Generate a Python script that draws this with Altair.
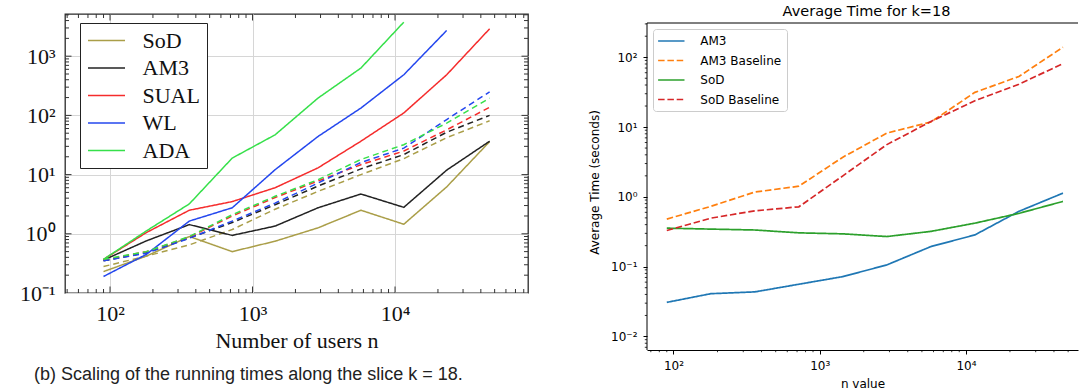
import altair as alt
import pandas as pd

# ---------------- data ----------------
n_users = [90, 180, 360, 720, 1440, 2880, 5760, 11520, 23040, 46080]

# left panel (measured solid, baseline dashed)
left_algos = ["SoD", "AM3", "SUAL", "WL", "ADA"]
left_colors = ["#aa9e48", "#222222", "#f52c2c", "#2447ee", "#36e04a"]
sod_time = [0.23, 0.42, 0.90, 0.50, 0.75, 1.26, 2.5, 1.45, 6.2, 36]
am3_time = [0.36, 0.76, 1.43, 0.94, 1.35, 2.75, 4.7, 2.8, 11.9, 36.6]
sual_time = [0.37, 1.05, 2.5, 3.5, 6.0, 13, 36.6, 110, 486, 2900]
wl_time = [0.19, 0.45, 1.64, 2.75, 12.1, 44, 133, 486, 2720, None]
ada_time = [0.37, 1.12, 3.2, 19, 47, 196, 630, 3760, None, None]
sod_base = [0.28, 0.42, 0.65, 1.18, 2.6, 5.2, 10, 18.6, 42, 81]
am3_base = [0.35, 0.48, 0.85, 1.55, 3.1, 6.4, 12.5, 21.8, 52, 100]
sual_base = [0.36, 0.50, 0.88, 2.0, 4.1, 7.8, 14.7, 25, 57, 137]
wl_base = [0.35, 0.47, 0.84, 1.64, 3.3, 7.2, 16, 28, 85, 250]
ada_base = [0.37, 0.50, 0.90, 2.1, 4.3, 8.2, 18, 32, 74, 196]

# right panel
right_series = ["AM3", "AM3 Baseline", "SoD", "SoD Baseline"]
right_colors = ["#1f77b4", "#ff7f0e", "#2ca02c", "#d62728"]
am3_r = [0.0308, 0.041, 0.0435, 0.056, 0.072, 0.106, 0.194, 0.285, 0.62, 1.13]
am3b_r = [0.48, 0.73, 1.17, 1.42, 3.7, 8.2, 11.8, 31.4, 53, 139]
sod_r = [0.356, 0.345, 0.335, 0.305, 0.295, 0.27, 0.32, 0.42, 0.58, 0.86]
sodb_r = [0.33, 0.495, 0.63, 0.72, 2.0, 5.6, 12, 23.8, 41, 81]

# tick values
left_x_major = [100, 1000, 10000]
left_x_minor = [50, 60, 70, 80, 90, 200, 300, 400, 500, 600, 700, 800, 900,
                2000, 3000, 4000, 5000, 6000, 7000, 8000, 9000,
                20000, 30000, 40000, 50000, 60000, 70000, 80000]
left_y_major = [1, 10, 100, 1000]
left_y_minor = [0.2, 0.3, 0.4, 0.5, 0.6, 0.7, 0.8, 0.9, 2, 3, 4, 5, 6, 7, 8, 9,
                20, 30, 40, 50, 60, 70, 80, 90, 200, 300, 400, 500, 600, 700,
                800, 900, 2000, 3000, 4000, 5000]
right_x_major = [100, 1000, 10000]
right_x_minor = [70, 80, 90, 200, 300, 400, 500, 600, 700, 800, 900,
                 2000, 3000, 4000, 5000, 6000, 7000, 8000, 9000,
                 20000, 30000, 40000, 50000]
right_y_major = [0.01, 0.1, 1, 10, 100]
right_y_minor = [0.007, 0.008, 0.009, 0.02, 0.03, 0.04, 0.05, 0.06, 0.07, 0.08, 0.09,
                 0.2, 0.3, 0.4, 0.5, 0.6, 0.7, 0.8, 0.9, 2, 3, 4, 5, 6, 7, 8, 9,
                 20, 30, 40, 50, 60, 70, 80, 90, 200, 300]

SUP = ("datum.value < 0.05 ? '10\u207b\u00b2' : datum.value < 0.5 ? '10\u207b\u00b9' : "
       "datum.value < 5 ? '10\u2070' : datum.value < 50 ? '10\u00b9' : "
       "datum.value < 500 ? '10\u00b2' : datum.value < 5000 ? '10\u00b3' : '10\u2074'")

SERIF = "Liberation Serif"
SANS = "DejaVu Sans"
TICK = "#333333"

# ---------------- left chart ----------------
rows = []
for algo, meas, base in [("SoD", sod_time, sod_base), ("AM3", am3_time, am3_base),
                         ("SUAL", sual_time, sual_base), ("WL", wl_time, wl_base),
                         ("ADA", ada_time, ada_base)]:
    for n, t in zip(n_users, meas):
        if t is not None:
            rows.append({"algo": algo, "kind": "measured", "n": n, "t": t})
    for n, t in zip(n_users, base):
        if t is not None:
            rows.append({"algo": algo, "kind": "baseline", "n": n, "t": t})
df_left = pd.DataFrame(rows)

LW, LH = 463, 279
xs_l = alt.Scale(type="log", domain=[48.3, 85700], nice=False)
ys_l = alt.Scale(type="log", domain=[0.1, 5160], nice=False)

ax_xl = alt.Axis(
    values=left_x_major, labelExpr=SUP, ticks=False, tickSize=0, domain=False,
    grid=True, gridColor="#d6d6d6", gridWidth=1, labelFont=SERIF, labelFontSize=22,
    labelColor="#111", labelPadding=10, title="Number of users n",
    titleFont=SERIF, titleFontSize=22, titleFontWeight="normal", titleColor="#111",
    titlePadding=6)
ax_yl = alt.Axis(
    values=[0.1] + left_y_major, labelExpr=SUP, ticks=False, tickSize=0, domain=False,
    grid=True, gridColor="#d6d6d6", gridWidth=1, labelFont=SERIF, labelFontSize=22,
    labelColor="#111", labelPadding=10, title=None)

left_lines = alt.Chart(df_left).mark_line(strokeWidth=1.5, clip=True).encode(
    x=alt.X("n:Q", scale=xs_l, axis=ax_xl),
    y=alt.Y("t:Q", scale=ys_l, axis=ax_yl),
    color=alt.Color("algo:N", scale=alt.Scale(domain=left_algos, range=left_colors),
                    legend=alt.Legend(
                        orient="none", legendX=15, legendY=9, title=None,
                        symbolType="M-1.85,0H1.85", symbolSize=400, symbolStrokeWidth=1.6,
                        symbolOffset=9, labelOffset=25, rowPadding=5.5, padding=6.5,
                        labelFont=SERIF, labelFontSize=22, labelColor="#111",
                        fillColor="white", strokeColor="#222222", cornerRadius=0)),
    strokeDash=alt.StrokeDash("kind:N", scale=alt.Scale(domain=["measured", "baseline"],
                                                        range=[[1, 0], [6, 4]]), legend=None),
)


def vticks(vals, scale, axis, y0, y1, color=TICK, sw=1.0):
    return alt.Chart(pd.DataFrame({"v": vals})).mark_rule(color=color, strokeWidth=sw).encode(
        x=alt.X("v:Q", scale=scale, axis=axis), y=alt.value(y0), y2=alt.value(y1))


def hticks(vals, scale, axis, x0, x1, color=TICK, sw=1.0):
    return alt.Chart(pd.DataFrame({"v": vals})).mark_rule(color=color, strokeWidth=sw).encode(
        y=alt.Y("v:Q", scale=scale, axis=axis), x=alt.value(x0), x2=alt.value(x1))


left_ticks = [
    vticks(left_x_minor, xs_l, ax_xl, LH, LH - 4), vticks(left_x_major, xs_l, ax_xl, LH, LH - 6.5),
    vticks(left_x_minor, xs_l, ax_xl, 0, 4), vticks(left_x_major, xs_l, ax_xl, 0, 6.5),
    hticks(left_y_minor, ys_l, ax_yl, 0, 4), hticks(left_y_major, ys_l, ax_yl, 0, 6.5),
    hticks(left_y_minor, ys_l, ax_yl, LW, LW - 4), hticks(left_y_major, ys_l, ax_yl, LW, LW - 6.5),
]

left = alt.layer(left_lines, *left_ticks).properties(
    width=LW, height=LH,
    view=alt.ViewBackground(stroke="#2a2a2a", strokeWidth=1.3),
    title=alt.TitleParams(
        text="(b) Scaling of the running times along the slice k = 18.",
        orient="bottom", anchor="start", frame="group", dx=-31, offset=15,
        font="Liberation Sans", fontSize=18, fontWeight="normal", color="#222"),
)

# ---------------- right chart ----------------
rrows = []
for name, vals in zip(right_series, [am3_r, am3b_r, sod_r, sodb_r]):
    for n, t in zip(n_users, vals):
        rrows.append({"series": name, "n": n, "t": t})
df_right = pd.DataFrame(rrows)

# plot area extends 9 px above the top spine so both panels share a top edge
TOPGAP = 9
RW, RH = 431, 336
xs_r = alt.Scale(type="log", domain=[65.9, 58400], nice=False)
ys_r = alt.Scale(type="log", domain=[0.0064, 416], nice=False)

ax_xr = alt.Axis(
    values=right_x_major, labelExpr=SUP, tickSize=4, tickColor="black", domain=True,
    domainColor="black", domainWidth=1, grid=False, labelFont=SANS, labelFontSize=12,
    labelColor="black", labelPadding=6, title="n value", titleFont=SANS,
    titleFontSize=12, titleFontWeight="normal", titleColor="black", titlePadding=7)
ax_yr = alt.Axis(
    values=right_y_major, labelExpr=SUP, tickSize=4, tickColor="black", domain=False,
    grid=False, labelFont=SANS, labelFontSize=12,
    labelColor="black", labelPadding=6, title="Average Time (seconds)", titleFont=SANS,
    titleFontSize=12, titleFontWeight="normal", titleColor="black", titlePadding=9)

right_lines = alt.Chart(df_right).mark_line(strokeWidth=1.7, clip=True).encode(
    x=alt.X("n:Q", scale=xs_r, axis=ax_xr),
    y=alt.Y("t:Q", scale=ys_r, axis=ax_yr),
    color=alt.Color("series:N", scale=alt.Scale(domain=right_series, range=right_colors),
                    legend=alt.Legend(
                        orient="none", legendX=6, legendY=6 + TOPGAP, title=None,
                        symbolType="M-2.2,0H2.2", symbolSize=144, symbolStrokeWidth=1.7,
                        symbolOffset=6.3, labelOffset=22, rowPadding=6.5, padding=5,
                        labelFont=SANS, labelFontSize=12, labelColor="black",
                        fillColor="rgba(255,255,255,0.8)", strokeColor="#cccccc",
                        cornerRadius=3)),
    strokeDash=alt.StrokeDash("series:N", scale=alt.Scale(
        domain=right_series, range=[[1, 0], [6.5, 2.8], [1, 0], [6.5, 2.8]])),
)

right_ticks = [
    vticks(right_x_minor, xs_r, ax_xr, RH, RH + 2.2, color="black", sw=0.8),
    hticks(right_y_minor, ys_r, ax_yr, 0, -2.2, color="black", sw=0.8),
]
spine_df = pd.DataFrame({"v": [0]})
top_spine = alt.Chart(spine_df).mark_rule(color="black", strokeWidth=1).encode(
    x=alt.value(0), x2=alt.value(RW), y=alt.value(TOPGAP))
left_spine = alt.Chart(spine_df).mark_rule(color="black", strokeWidth=1).encode(
    x=alt.value(0), y=alt.value(TOPGAP), y2=alt.value(RH))

right = alt.layer(right_lines, *right_ticks, top_spine, left_spine).properties(
    width=RW, height=RH,
    view=alt.ViewBackground(stroke="transparent"),
    title=alt.TitleParams(text="Average Time for k=18", anchor="middle", dx=4, offset=-5,
                          font=SANS, fontSize=14.5, fontWeight="normal", color="black"),
)

chart = alt.hconcat(left, right, spacing=58).resolve_scale(
    color="independent", strokeDash="independent", x="independent", y="independent"
).resolve_legend(color="independent", strokeDash="independent").properties(
    padding={"left": 18, "top": 3, "right": 0, "bottom": 0},
    background="white",
)

chart.save("out.html", embed_options={"renderer": "svg", "actions": False})
